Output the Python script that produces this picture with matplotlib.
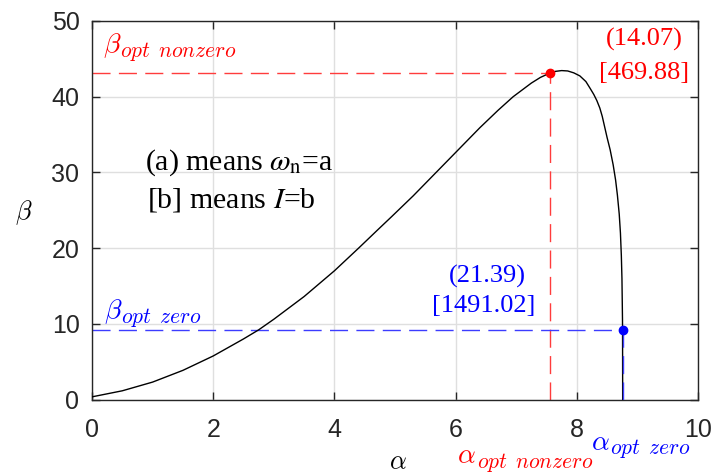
import numpy as np
import matplotlib
matplotlib.use('Agg')
import matplotlib.pyplot as plt

# curve (alpha, beta)
alpha = [0.0, 0.5, 1.0, 1.5, 2.0, 2.5, 2.75, 3.0, 3.5, 4.0, 4.4, 4.7, 4.95,
         5.3, 5.85, 6.4, 6.7, 6.95, 7.25, 7.4, 7.55, 7.65, 7.75, 7.85, 7.95, 8.05,
         8.15, 8.22, 8.28, 8.33, 8.38, 8.42, 8.46, 8.5, 8.55, 8.6, 8.64, 8.67,
         8.7, 8.72, 8.735, 8.745, 8.75, 8.754, 8.755, 8.757]
beta = [0.35, 1.15, 2.3, 3.85, 5.75, 8.0, 9.2, 10.6, 13.6, 17.0, 20.0, 22.3, 24.2,
        26.9, 31.4, 35.9, 38.2, 40.0, 41.8, 42.55, 43.1, 43.35, 43.45, 43.4, 43.15, 42.75,
        42.0, 41.1, 40.3, 39.5, 38.5, 37.4, 36.0, 34.6, 33.0, 31.0, 29.0, 27.0,
        24.5, 22.0, 19.0, 16.0, 13.0, 10.5, 9.15, 0.0]

# optimum points
a_nonzero, b_nonzero = 7.55, 43.1
a_zero, b_zero = 8.755, 9.15
lbl_nonzero = ['(14.07)', '[469.88]']
lbl_zero = ['(21.39)', '[1491.02]']

C_RED = '#ff0000'
C_BLUE = '#0000ff'
C_RED_LN = '#ff3c3c'
C_BLUE_LN = '#3c3cff'
AX_COL = '#262626'

fig = plt.figure(figsize=(7.13, 4.75), dpi=100)
ax = fig.add_axes([92 / 713, 1 - 399.5 / 475, 606 / 713, 378.5 / 475])

ax.plot(alpha, beta, color='black', lw=1.0, zorder=3)

dash = (13, 6)
ax.plot([0, a_nonzero], [b_nonzero, b_nonzero], color=C_RED_LN, lw=1.0, dashes=dash, zorder=2)
ax.plot([a_nonzero, a_nonzero], [0, b_nonzero], color=C_RED_LN, lw=1.0, dashes=dash, zorder=2)
ax.plot([0, a_zero], [b_zero, b_zero], color=C_BLUE_LN, lw=1.0, dashes=dash, zorder=2)
ax.plot([a_zero, a_zero], [0, b_zero], color=C_BLUE_LN, lw=1.0, dashes=dash, zorder=4)
ax.plot(a_nonzero, b_nonzero, 'o', color=C_RED, ms=6, zorder=5)
ax.plot(a_zero, b_zero, 'o', color=C_BLUE, ms=6, zorder=5)

ax.set_xlim(0, 10)
ax.set_ylim(0, 50)
ax.set_xticks(np.arange(0, 11, 2))
ax.set_yticks(np.arange(0, 51, 10))
ax.grid(True, color='#dfdfdf', lw=1.0)
ax.set_axisbelow(True)
for s in ax.spines.values():
    s.set_color(AX_COL)
    s.set_linewidth(1.0)
ax.tick_params(direction='in', length=6, width=1.0, color=AX_COL,
               top=True, right=True, labelcolor=AX_COL, labelsize=18)
ax.tick_params(axis='x', pad=13)
ax.tick_params(axis='y', pad=9)
for lab in ax.get_xticklabels() + ax.get_yticklabels():
    lab.set_family('Liberation Sans')

ax.set_xlabel(r'$\alpha$', fontsize=19, math_fontfamily='cm')
ax.xaxis.set_label_coords(0.505, -0.166)
ax.xaxis.label.set_va('center')
ax.set_ylabel(r'$\beta$', fontsize=19, rotation=0, math_fontfamily='cm')
ax.yaxis.set_label_coords(-0.112, 0.495)
ax.yaxis.label.set_va('center')
ax.yaxis.label.set_ha('center')


def sub_label(x0, y0, xs, ys, sym, sub, color):
    """Greek symbol plus a large math-italic subscript, MATLAB LaTeX style."""
    ax.text(x0, y0, rf'${sym}$', color=color, fontsize=20, math_fontfamily='cm',
            ha='left', va='baseline', clip_on=False)
    ax.text(xs, ys, rf'${sub}$', color=color, fontsize=15.5, math_fontfamily='cm',
            ha='left', va='baseline', clip_on=False)


sub_label(0.18, 45.84, 0.46, 45.28, r'\beta', r'opt\ \,nonzero', C_RED)
sub_label(0.20, 10.70, 0.48, 10.15, r'\beta', r'opt\ \,zero', C_BLUE)
sub_label(6.02, -8.39, 6.35, -9.0, r'\alpha', r'opt\ \,nonzero', C_RED)
sub_label(8.23, -6.75, 8.55, -7.2, r'\alpha', r'opt\ \,zero', C_BLUE)

serif = 'Liberation Serif'
ax.text(9.11, 47.5, lbl_nonzero[0], color=C_RED, fontsize=19, family=serif,
        ha='center', va='center')
ax.text(9.11, 43.1, lbl_nonzero[1], color=C_RED, fontsize=19, family=serif,
        ha='center', va='center')
ax.text(6.52, 16.3, lbl_zero[0], color=C_BLUE, fontsize=19, family=serif,
        ha='center', va='center')
ax.text(6.47, 12.3, lbl_zero[1], color=C_BLUE, fontsize=19, family=serif,
        ha='center', va='center')

ax.text(0.87, 31.3, r'(a) means $\omega_{\mathrm{n}}$=a', color='black', fontsize=21.5,
        family=serif, math_fontfamily='stix', va='center', ha='left')
ax.text(0.90, 26.4, r'[b] means $I$=b', color='black', fontsize=21.5,
        family=serif, math_fontfamily='stix', va='center', ha='left')

fig.savefig('out.png', dpi=100)
